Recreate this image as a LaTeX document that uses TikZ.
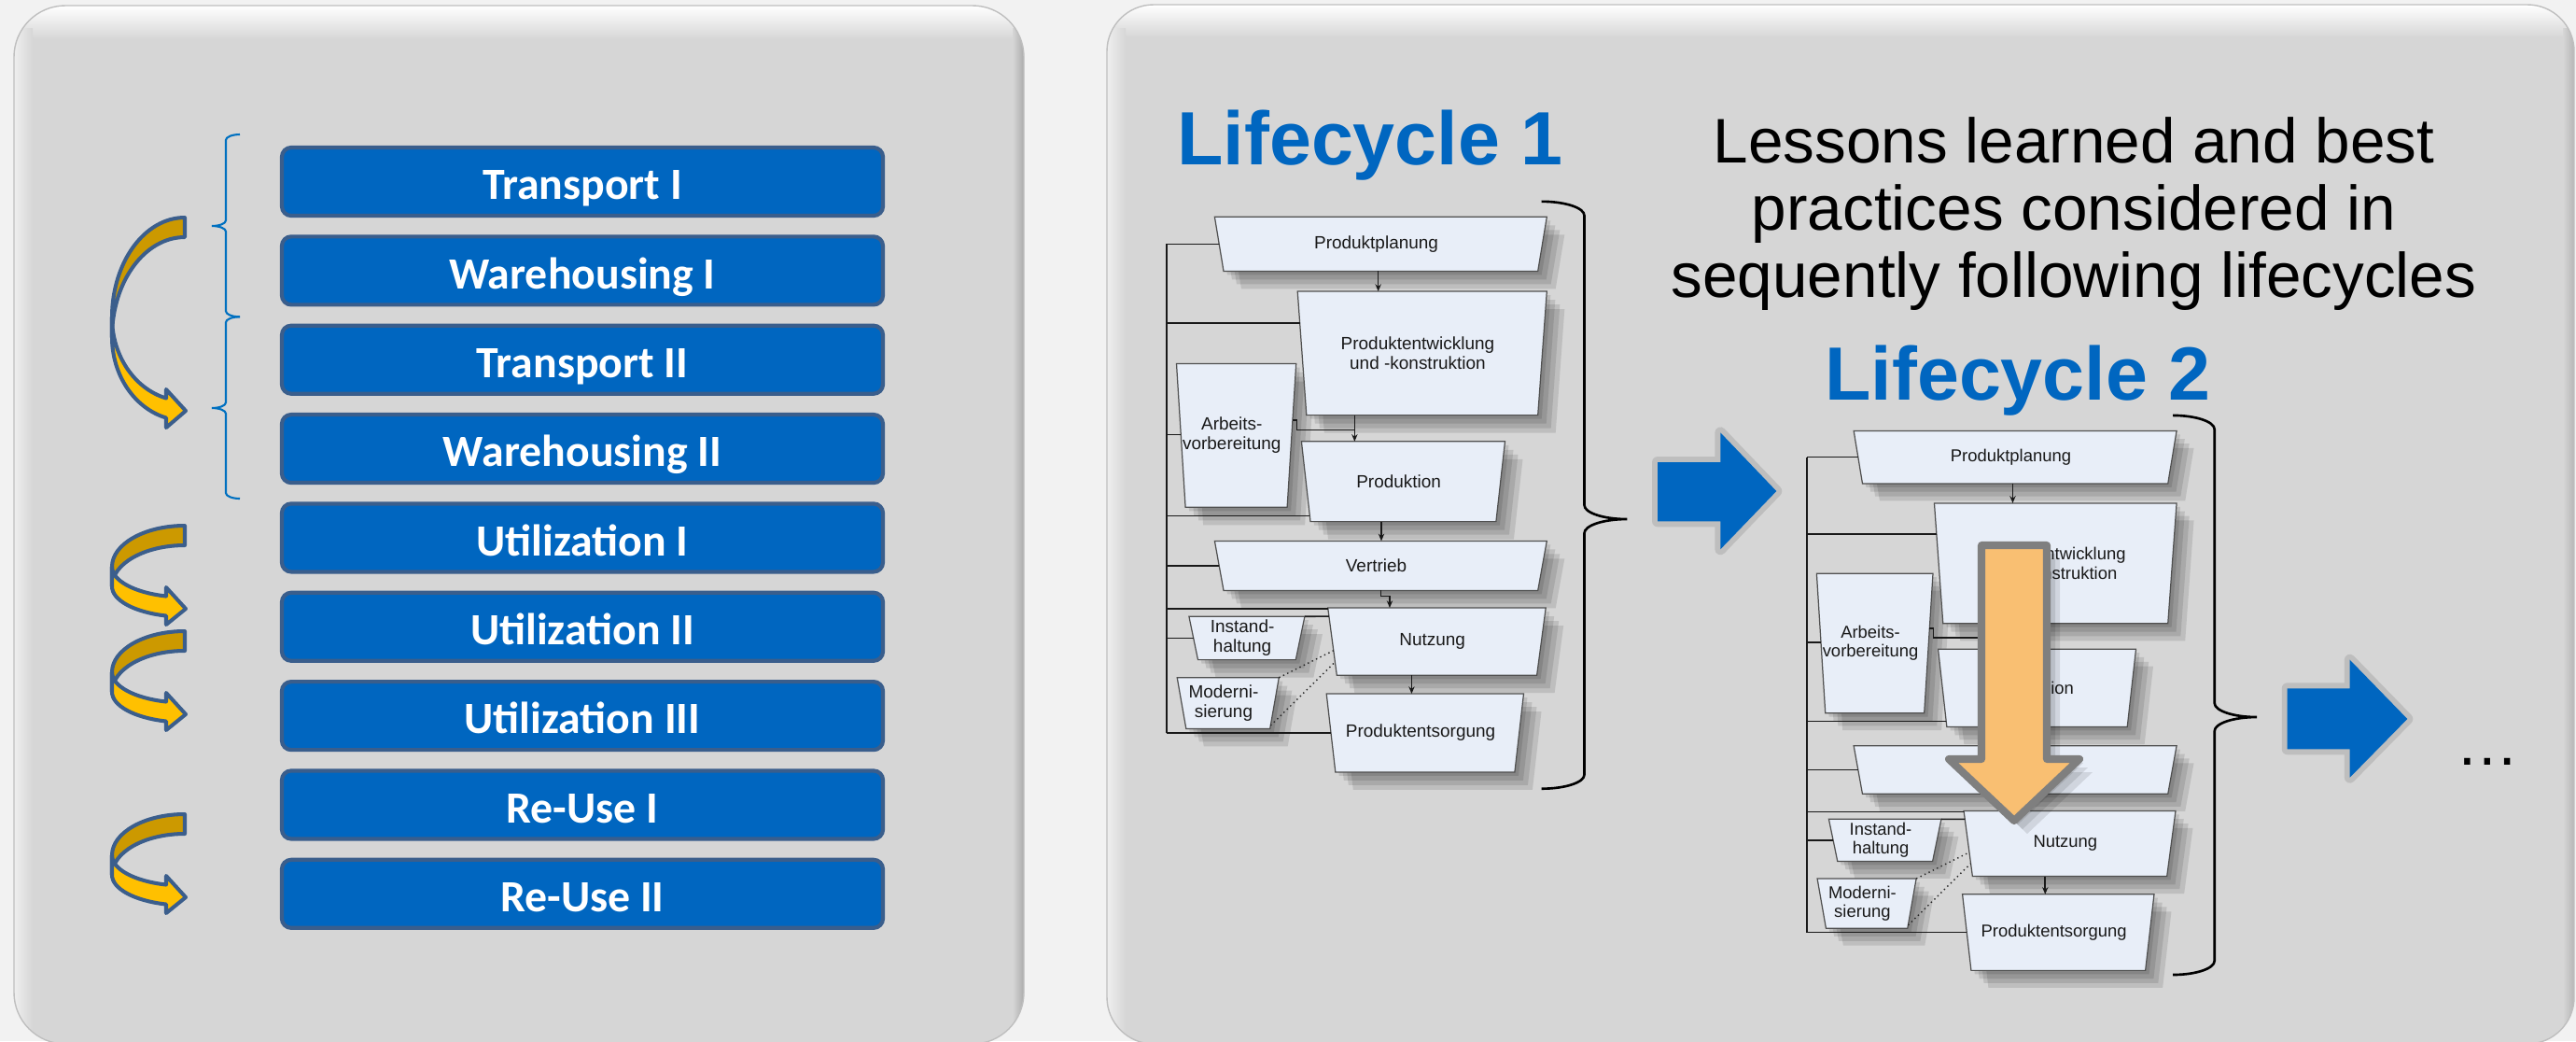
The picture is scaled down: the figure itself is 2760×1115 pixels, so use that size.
\documentclass[tikz,border=0pt]{standalone}
\usepackage{fontspec}
\setmainfont{Liberation Sans}
\newfontfamily\carlito{Carlito}
\usetikzlibrary{calc,arrows.meta}
\definecolor{pagebg}{HTML}{F2F2F2}
\definecolor{pgray}{HTML}{D6D6D6}
\definecolor{lblue}{HTML}{0066C0}
\definecolor{lborder}{HTML}{3A5E8C}
\definecolor{braceblue}{HTML}{0070C0}
\definecolor{titleblue}{HTML}{0066C0}
\definecolor{tzfill}{HTML}{E8EEF8}
\definecolor{tzline}{HTML}{505050}
\definecolor{golddark}{HTML}{CC9900}
\definecolor{goldlight}{HTML}{FFC000}
\definecolor{arrowline}{HTML}{3B5E8C}
\definecolor{orangefill}{HTML}{F9BF72}
\definecolor{orangeline}{HTML}{7F7F7F}
\definecolor{arrowgray}{HTML}{BEBEBE}
\pgfdeclarelayer{panel}
\pgfdeclarelayer{shadow}
\pgfdeclarelayer{boxes}
\pgfdeclarelayer{top}
\pgfsetlayers{panel,shadow,boxes,main,top}

% trapezoid box: name, x-left, y-top, width, height, text
\newcommand\tzbox[6]{%
  \path (#2,#3) coordinate (#1-nw) ++(#4,0) coordinate (#1-ne)
        ++(-9.6,#5) coordinate (#1-se) ++({19.2-#4},0) coordinate (#1-sw);
  \begin{pgfonlayer}{shadow}
    \foreach \k in {4,9,14,19}{%
      \fill[black,opacity=0.11] ([shift={(\k,\k)}]#1-nw) -- ([shift={(\k,\k)}]#1-ne)
        -- ([shift={(\k,\k)}]#1-se) -- ([shift={(\k,\k)}]#1-sw) -- cycle;}
  \end{pgfonlayer}
  \begin{pgfonlayer}{boxes}
    \filldraw[tzshape] (#1-nw) -- (#1-ne) -- (#1-se) -- (#1-sw) -- cycle;
  \end{pgfonlayer}
  \node[tztext] (#1) at ($(#1-nw)!0.5!(#1-se)$) {#6};
}

\newcommand\lifecycle[1]{%
  \tzbox{#1pp}{1301.4}{232.3}{355.9}{58.1}{Produktplanung}
  \tzbox{#1pe}{1390.2}{312}{267.1}{132.6}{Produktentwicklung\\und -konstruktion}
  \tzbox{#1av}{1260.5}{389.5}{128.2}{153.8}{Arbeits-\\vorbereitung}
  \tzbox{#1pd}{1394.4}{472.8}{218.1}{85.8}{Produktion}
  \tzbox{#1vt}{1301.4}{579.4}{355.9}{53}{Vertrieb}
  \tzbox{#1nu}{1422.7}{651}{233.5}{72.2}{Nutzung}
  \tzbox{#1ih}{1273.9}{660.2}{124}{46.4}{Instand-\\haltung}
  \tzbox{#1md}{1261.2}{725.7}{109.1}{54.7}{Moderni-\\sierung}
  \tzbox{#1ps}{1421.2}{743}{211.3}{83.9}{Produktentsorgung}
  % feedback bus
  \coordinate (#1bt) at (1249.8,261.4);
  \coordinate (#1bb) at (1249.8,785.4);
  \draw[conn] (#1bt) -- (#1bb);
  \path ($(#1pp-nw)!0.5!(#1pp-sw)$) coordinate (#1pp-l)
        ($(#1pe-nw)!0.256!(#1pe-sw)$) coordinate (#1pe-l)
        ($(#1av-nw)!0.493!(#1av-sw)$) coordinate (#1av-l)
        ($(#1pd-nw)!0.928!(#1pd-sw)$) coordinate (#1pd-l)
        ($(#1vt-nw)!0.5!(#1vt-sw)$) coordinate (#1vt-l)
        ($(#1nu-nw)!0.015!(#1nu-sw)$) coordinate (#1nu-l)
        ($(#1nu-nw)!0.127!(#1nu-sw)$) coordinate (#1nu-l2)
        ($(#1ih-nw)!0.5!(#1ih-sw)$) coordinate (#1ih-l)
        ($(#1ps-nw)!0.5!(#1ps-sw)$) coordinate (#1ps-l);
  \foreach \b in {pp,pe,av,pd,vt,nu,ih,ps}{\draw[conn] (#1bt |- #1\b-l) -- (#1\b-l);}
  \draw[conn] (#1ih-ne) -- (#1nu-l2);
  % flow arrows
  \path ($(#1pp-sw)!0.492!(#1pp-se)$) coordinate (#1pp-o)
        ($(#1pe-sw)!0.208!(#1pe-se)$) coordinate (#1pe-o)
        ($(#1av-ne)!0.393!(#1av-se)$) coordinate (#1av-o)
        ($(#1pd-sw)!0.382!(#1pd-se)$) coordinate (#1pd-o)
        ($(#1vt-sw)!0.5!(#1vt-se)$) coordinate (#1vt-o)
        ($(#1nu-sw)!0.374!(#1nu-se)$) coordinate (#1nu-o);
  \path (#1vt-o) ++(9.6,6.2) coordinate (#1vt-k);
  \path (#1av-o) ++(4.5,10.4) coordinate (#1av-k);
  \draw[arr] (#1pp-o) -- (#1pp-o |- #1pe-nw);
  \draw[arr] (#1pe-o) -- (#1pe-o |- #1pd-nw);
  \draw[conn] (#1av-o) -| (#1av-k) -- (#1av-k -| #1pe-o);
  \draw[arr] (#1pd-o) -- (#1pd-o |- #1vt-nw);
  \draw[arr] (#1vt-o) |- (#1vt-k) -- (#1vt-k |- #1nu-nw);
  \draw[arr] (#1nu-o) -- (#1nu-o |- #1ps-nw);
  \draw[dotline] (#1md-ne) -- ($(#1nu-nw)!0.633!(#1nu-sw)$);
  \draw[dotline] ($(#1md-ne)!0.94!(#1md-se)$) -- ($(#1nu-nw)!0.803!(#1nu-sw)$);
}

% brace: style, x-end, x-line, x-tip, y-top, y-tip, y-bottom, r
\newcommand\cbrace[8]{%
  \draw[#1] (#2,#5) .. controls ({#2+0.552*(#3-#2)},#5) and (#3,{#5+#8-0.552*#8}) .. (#3,{#5+#8})
    -- (#3,{#6-#8}) .. controls (#3,{#6-#8+0.552*#8}) and ({#4-0.552*(#4-#3)},#6) .. (#4,#6)
    .. controls ({#4-0.552*(#4-#3)},#6) and (#3,{#6+#8-0.552*#8}) .. (#3,{#6+#8})
    -- (#3,{#7-#8}) .. controls (#3,{#7-#8+0.552*#8}) and ({#2+0.552*(#3-#2)},#7) .. (#2,#7);}

% curved (twisted) arrow: x0, y0, L, bD, yb, notch1, tip, notch2
\newcommand\curvarr[8]{%
  \begin{scope}[shift={(#1,#2)}]
    \filldraw[cadark] (0,0) arc[start angle=270, end angle=180, x radius=78, y radius=#3]
      -- (-78,{#3+21}) arc[start angle=180, end angle=270, x radius=78, y radius=#3] -- cycle;
    \filldraw[calight] (-78,#3) arc[start angle=180, end angle=104.86, x radius=78, y radius=#4]
      -- (-20,#6) -- (1,#7) -- (-20,#8) -- (-20,{#5+21})
      arc[start angle=104.86, end angle=180, x radius=78, y radius=#4] -- cycle;
  \end{scope}}

\begin{document}
\begin{tikzpicture}[x=0.1mm,y=-0.1mm,
  tzshape/.style={fill=tzfill, draw=tzline, line width=0.35pt},
  tztext/.style={inner sep=0pt, align=center, text=black!90,
                 font=\fontsize{5.4pt}{5.9pt}\selectfont},
  conn/.style={draw=black!90, line width=0.45pt},
  arr/.style={conn, -{Stealth[length=2.2pt,width=1.8pt]}},
  dotline/.style={draw=black!85, line width=0.4pt, densely dotted},
  lbox/.style={rectangle, rounded corners=1mm, fill=lblue, draw=lborder,
               line width=1.2pt, minimum width=64.4mm, minimum height=7.3mm,
               text height=11pt, text depth=0pt, inner sep=0pt,
               text=white, font=\carlito\bfseries\fontsize{13.6pt}{15pt}\selectfont},
  lbrace/.style={draw=braceblue, line width=0.6pt},
  rbrace/.style={draw=black, line width=0.75pt},
  cadark/.style={fill=golddark, draw=arrowline, line width=1.15pt, line join=round},
  calight/.style={fill=goldlight, draw=arrowline, line width=1.15pt, line join=round},
  title/.style={text=titleblue, font=\bfseries\fontsize{23pt}{27pt}\selectfont, inner sep=0pt},
  lessons/.style={text=black, font=\fontsize{19.2pt}{22pt}\selectfont, inner sep=0pt}]

\useasboundingbox (0,0) rectangle (2760,1115);

% ---------- panels ----------
\begin{pgfonlayer}{panel}
  \fill[pagebg] (0,0) rectangle (2760,1115);
  \begin{scope}
    \clip[rounded corners=5.5mm] (15,6) rectangle (1097,1118);
    \fill[pgray] (15,6) rectangle (1097,1118);
    \shade[top color=white, bottom color=pgray] (15,6) rectangle (1097,42);
    \shade[left color=white!60!pgray, right color=pgray] (15,30) rectangle (35,1118);
    \shade[left color=pgray, right color=pgray!80!black] (1085,30) rectangle (1097,1118);
  \end{scope}
  \draw[black!25, line width=0.4pt, rounded corners=5.5mm] (15,6) rectangle (1097,1118);
  \begin{scope}
    \clip[rounded corners=5mm] (1186,5) rectangle (2758,1118);
    \fill[pgray] (1186,5) rectangle (2758,1118);
    \shade[top color=white, bottom color=pgray] (1186,5) rectangle (2758,40);
    \shade[left color=white!60!pgray, right color=pgray] (1186,30) rectangle (1206,1118);
    \shade[left color=pgray, right color=pgray!85!black] (2746,30) rectangle (2758,1118);
  \end{scope}
  \draw[black!25, line width=0.4pt, rounded corners=5mm] (1186,5) rectangle (2758,1118);
\end{pgfonlayer}

% ---------- left panel ----------
\foreach \i/\t in {0/Transport I,1/Warehousing I,2/Transport II,3/Warehousing II,
                   4/Utilization I,5/Utilization II,6/Utilization III,7/Re-Use I,8/Re-Use II}{
  \node[lbox] (L\i) at (624,{194.5+95.35*\i}) {\t};
}
\cbrace{lbrace}{257}{242}{227}{144}{242}{339.3}{6}
\cbrace{lbrace}{257}{242}{227}{339.3}{437}{534}{6}

\curvarr{198}{233}{107}{89.5}{193.5}{184}{207}{225}
\curvarr{198}{563}{44}{32.6}{75.5}{66}{89}{106}
\curvarr{198}{676}{44}{32.6}{75.5}{66}{89}{106}
\curvarr{198}{872}{44}{32.6}{75.5}{66}{89}{106}

% ---------- right panel ----------
\node[title, anchor=base] (lc1) at (1468,176) {Lifecycle 1};
\node[title, anchor=base] (lc2) at (2162,428) {Lifecycle 2};
\node[lessons, anchor=base] (ls1) at (2222,174) {Lessons learned and best};
\node[lessons, anchor=base] (ls2) at (2222,246) {practices considered in};
\node[lessons, anchor=base] (ls3) at (2222,318) {sequently following lifecycles};
\node[lessons, anchor=base] (more) at (2665,819) {…};

\lifecycle{a}
\begin{scope}[shift={(1936,489.7)},scale=0.972,shift={(-1249.8,-261.4)},transform shape]
  \lifecycle{b}
\end{scope}

\cbrace{rbrace}{1651.6}{1697.5}{1743.4}{215.8}{556}{844.7}{15}
\cbrace{rbrace}{2328}{2372.7}{2418}{444.9}{768}{1044}{15}

% blue arrows
\filldraw[draw=arrowgray, fill=arrowgray, line width=3.4pt, line join=round]
  (1776,495) -- (1843.3,495) -- (1843.3,463.3) -- (1903.3,526) -- (1843.3,588.3) -- (1843.3,558.3) -- (1776,558.3) -- cycle;
\fill[lblue]
  (1776,495) -- (1843.3,495) -- (1843.3,463.3) -- (1903.3,526) -- (1843.3,588.3) -- (1843.3,558.3) -- (1776,558.3) -- cycle;
\filldraw[draw=arrowgray, fill=arrowgray, line width=3.4pt, line join=round]
  (2450.7,737.3) -- (2517.7,737.3) -- (2517.7,706.7) -- (2579.3,770) -- (2517.7,832.7) -- (2517.7,802.3) -- (2450.7,802.3) -- cycle;
\fill[lblue]
  (2450.7,737.3) -- (2517.7,737.3) -- (2517.7,706.7) -- (2579.3,770) -- (2517.7,832.7) -- (2517.7,802.3) -- (2450.7,802.3) -- cycle;

% orange arrow on top of lifecycle 2
\begin{pgfonlayer}{top}
  \foreach \k in {4,9,14}{
    \fill[black, opacity=0.1, shift={(\k,\k)}]
      (2123,584) -- (2193,584) -- (2193,813) -- (2228,813) -- (2158,879) -- (2088,813) -- (2123,813) -- cycle;}
  \filldraw[fill=orangefill, draw=orangeline, line width=2.3pt, line join=round]
    (2123,584) -- (2193,584) -- (2193,813) -- (2228,813) -- (2158,879) -- (2088,813) -- (2123,813) -- cycle;
\end{pgfonlayer}
\end{tikzpicture}
\end{document}
